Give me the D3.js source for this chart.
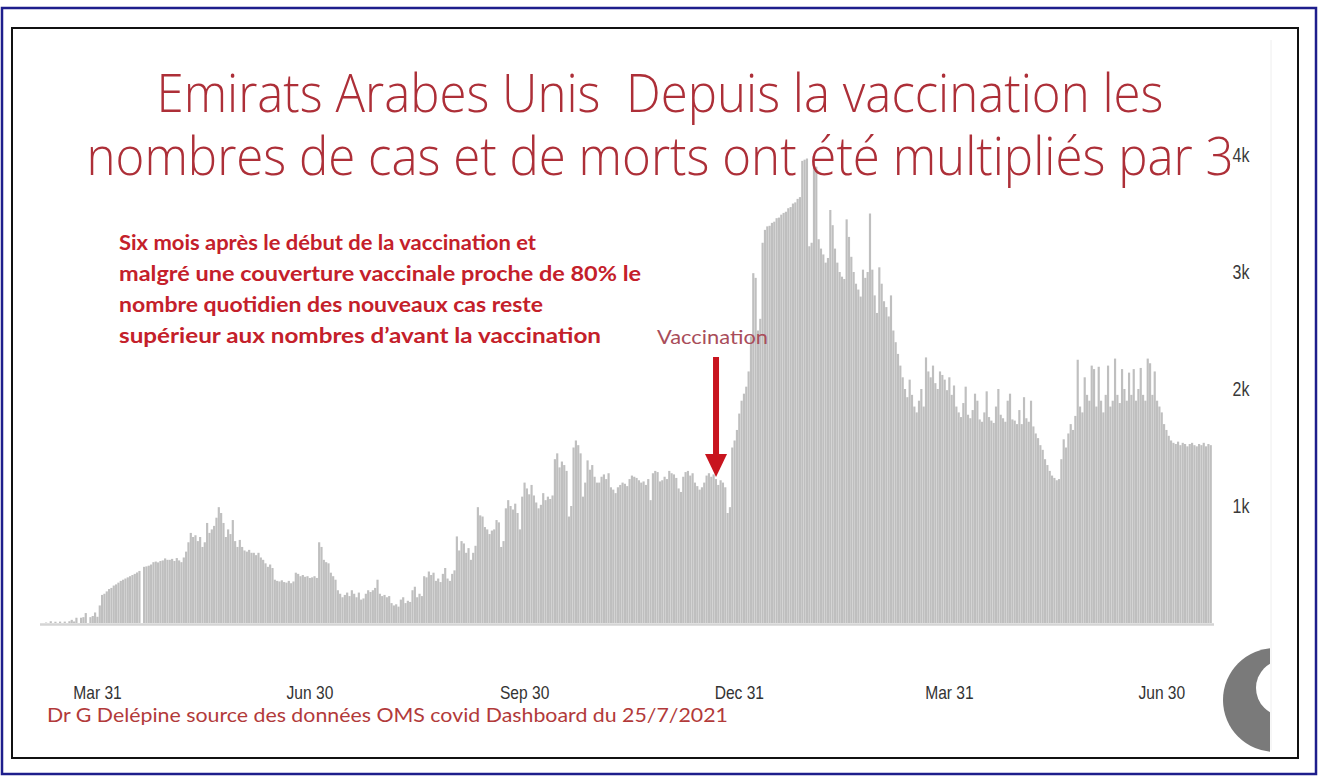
<!DOCTYPE html>
<html><head><meta charset="utf-8">
<script src="https://cdn.jsdelivr.net/npm/d3@7"></script>
<style>html,body{margin:0;padding:0;background:#fff;} svg{display:block}</style>
</head><body>
<svg id="c" width="1319" height="778"></svg>
<script>
// ---------- DATA (daily new cases) ----------
const startDate = "2020-03-09";
const mar2020 = [4,0,15,0,11,0,12,0,12,0,15,27,13,45,0,45,50,85,0,50,60,90,53];
const apr2020 = [150,240,250,270,290,300,320,330,345,360,370,380,390,400,410,420,432,445,0,480,484,490,500,520,525,518,530,535,552,540];
const may2020 = [540,548,530,555,535,520,560,610,690,770,735,750,700,735,650,690,855,770,800,830,900,990,940,855,735,800,760,880,700,650,710];
const jun2020 = [650,620,610,625,600,600,580,600,560,540,510,480,500,470,370,360,355,365,350,345,360,340,355,430,420,400,410,395,400,385];
const jul2020 = [390,400,385,690,650,540,520,510,430,400,370,280,250,220,240,260,230,280,250,220,260,200,210,250,280,265,280,300,370,250,230];
const aug2020 = [240,220,230,170,150,160,140,200,220,170,190,180,280,310,220,250,230,400,390,440,410,430,360,380,350,420,470,380,360,420,450];
const sep2020 = [740,620,700,680,600,640,540,600,660,990,920,910,820,800,760,790,800,880,860,650,700,980,1050,1000,970,1020,940,800,1080,1200];
const oct2020 = [1150,1100,1180,1090,1030,980,1010,1110,1050,1080,1060,1090,1400,1450,1330,1380,1350,1300,910,1000,1500,1560,1520,1450,1080,1200,1390,1310,1350,1250,1200];
const nov2020 = [1200,1250,1270,1230,1280,1160,1140,1110,1160,1180,1200,1190,1170,1230,1260,1250,1240,1220,1200,1210,1180,1230,1050,1280,1300,1290,1210,1220,1250,1230];
const dec2020 = [1300,1280,1270,1240,1150,1120,1250,1290,1300,1260,1280,1200,1170,1140,1160,1200,1260,1280,1250,1270,1230,1180,1220,1200,1160,940,990,1500,1560,1650,1790];
const jan2021 = [1900,1960,2020,2150,2450,2990,2950,2500,2600,3250,3360,3390,3395,3420,3430,3460,3465,3490,3505,3515,3545,3555,3585,3595,3625,3640,3950,3960,3970,3220,3250];
const feb2021 = [3990,3900,3280,3200,3150,3080,3120,3530,3400,3200,3080,3000,2960,2940,3450,3300,3130,3000,2900,2850,2790,3020,2950,3000,3500,3020,2800,2650];
const mar2021 = [3040,2900,2750,2700,2620,2800,2500,2400,2300,2200,2100,2000,1930,2080,1950,1850,1800,1900,2000,1850,2270,2150,2100,2200,2050,2000,2150,2120,2080,1990,2100];
const apr2021 = [1950,2030,1850,1800,1760,1880,2020,1780,1750,1820,1960,1900,1740,1720,1800,1980,1760,1730,1710,1850,2000,1780,1750,1720,1900,1960,1740,1730,1700,1820];
const may2021 = [1700,1930,1750,1720,1900,1680,1620,1580,1520,1480,1400,1350,1300,1260,1240,1220,1230,1400,1570,1500,1620,1700,1650,1770,2250,1850,1800,2100,1950,1900,2200];
const jun2021 = [2170,1850,2190,1900,1800,1950,2200,1850,1900,2260,1950,1880,2170,2000,1900,2140,1950,2170,1900,2000,2180,1950,1900,2260,2220,1950,2150,1900,1850,1800];
const jul2021 = [1700,1650,1600,1560,1540,1530,1550,1520,1540,1530,1510,1530,1540,1520,1510,1530,1520,1540,1510,1530,1520];

const xTickDates  = ["2020-03-31","2020-06-30","2020-09-30","2020-12-31","2021-03-31","2021-06-30"];
const xTickLabels = ["Mar 31","Jun 30","Sep 30","Dec 31","Mar 31","Jun 30"];
const yTickValues = [1000,2000,3000,4000];
const yTickLabels = ["1k","2k","3k","4k"];
const vaccinationDate = "2020-12-21";

const titleLines = ["Emirats Arabes Unis  Depuis la vaccination les",
                    "nombres de cas et de morts ont été multipliés par 3"];
const noteLines = ["Six mois après le début de la vaccination et",
                   "malgré une couverture vaccinale proche de 80% le",
                   "nombre quotidien des nouveaux cas reste",
                   "supérieur aux nombres d’avant la vaccination"];
const vaccinationLabel = "Vaccination";
const sourceText = "Dr G Delépine source des données OMS covid Dashboard du 25/7/2021";

// ---------- LAYOUT ----------
const parse = d3.utcParse("%Y-%m-%d");
const values = [].concat(mar2020,apr2020,may2020,jun2020,jul2020,aug2020,sep2020,oct2020,nov2020,dec2020,
                         jan2021,feb2021,mar2021,apr2021,may2021,jun2021,jul2021);
const t0 = parse(startDate);
const series = values.map((v,i)=>({date:d3.utcDay.offset(t0,i), value:v}));
const tEnd = d3.utcDay.offset(t0, values.length);

const svg = d3.select("#c");
const x = d3.scaleUtc().domain([t0,tEnd]).range([45,1212]);
const y = d3.scaleLinear().domain([0,4000]).range([623,155]);
const step = x(d3.utcDay.offset(t0,1)) - x(t0);

// frames
svg.append("rect").attr("x",2).attr("y",8).attr("width",1314).attr("height",766)
   .attr("fill","#fff").attr("stroke","#1e1e8c").attr("stroke-width",2.5);
svg.append("rect").attr("x",12).attr("y",28).attr("width",1286).attr("height",730)
   .attr("fill","#fff").attr("stroke","#111").attr("stroke-width",2);

// condense helper for the narrow axis font
const axisFont = "'Liberation Sans Narrow','Arial Narrow','Liberation Sans',sans-serif";
function condense(sel, k){
  sel.each(function(){ const w=this.getComputedTextLength(); d3.select(this).attr("textLength",w*k).attr("lengthAdjust","spacingAndGlyphs"); });
}

// y labels (drawn before title so the title overlaps "4k", as in the reference)
svg.append("g").selectAll("text").data(yTickValues).join("text")
   .attr("x",1241).attr("y",d=>y(d)+7).attr("text-anchor","middle")
   .attr("font-family",axisFont).attr("font-size",20).attr("fill","#3a3a3a")
   .text((d,i)=>yTickLabels[i]).call(condense,0.8);

// bars
svg.append("g").selectAll("rect").data(series).join("rect")
   .attr("x",d=>x(d.date)).attr("width",step*0.93)
   .attr("y",d=>y(d.value)).attr("height",d=>y(0)-y(d.value))
   .attr("fill","#bfbfbf");

// baseline
svg.append("line").attr("x1",40).attr("x2",1214).attr("y1",y(0)+1.5).attr("y2",y(0)+1.5)
   .attr("stroke","#d4d4d4").attr("stroke-width",2.5);

// x tick labels
svg.append("g").selectAll("text").data(xTickDates).join("text")
   .attr("x",d=>x(parse(d))+step/2).attr("y",699).attr("text-anchor","middle")
   .attr("font-family",axisFont).attr("font-size",19).attr("fill","#333")
   .text((d,i)=>xTickLabels[i]).call(condense,0.82);

// title
const titleWidths=[1007,1147], titleY=[112,175];
svg.append("g").selectAll("text").data(titleLines).join("text")
   .attr("x",660).attr("y",(d,i)=>titleY[i]).attr("text-anchor","middle")
   .style("white-space","pre")
   .attr("font-family","'Open Sans','Lato',sans-serif").attr("font-weight",300)
   .attr("font-size",54).attr("fill","#ad2f38")
   .attr("textLength",(d,i)=>titleWidths[i]).attr("lengthAdjust","spacingAndGlyphs")
   .text(d=>d);

// note
const noteWidths=[417,522,424,482], noteY=[250,281,312,343];
svg.append("g").selectAll("text").data(noteLines).join("text")
   .attr("x",119).attr("y",(d,i)=>noteY[i])
   .attr("font-family","'Lato','Open Sans',sans-serif").attr("font-weight",700)
   .attr("font-size",21).attr("fill","#c4202a")
   .attr("textLength",(d,i)=>noteWidths[i]).attr("lengthAdjust","spacingAndGlyphs")
   .text(d=>d);

// vaccination marker
const vx = x(parse(vaccinationDate)) + step/2;
svg.append("text").attr("x",657).attr("y",344)
   .attr("font-family","'Lato','Open Sans',sans-serif").attr("font-size",19).attr("fill","#a94d5a")
   .attr("textLength",111).attr("lengthAdjust","spacingAndGlyphs").text(vaccinationLabel);
svg.append("rect").attr("x",vx-3).attr("y",357).attr("width",6).attr("height",100).attr("fill","#c8141e");
svg.append("path").attr("d",`M${vx-11},454 L${vx+11},454 L${vx},477 Z`).attr("fill","#c8141e");

// source
svg.append("text").attr("x",47).attr("y",722)
   .attr("font-family","'Lato','Open Sans',sans-serif").attr("font-size",20).attr("fill","#b23a3a")
   .attr("textLength",681).attr("lengthAdjust","spacingAndGlyphs").text(sourceText);

// grey round widget at the bottom right (clipped)
svg.append("clipPath").attr("id","cp").append("rect").attr("x",1200).attr("y",640).attr("width",70).attr("height",120);
const gw = svg.append("g").attr("clip-path","url(#cp)");
gw.append("circle").attr("cx",1275).attr("cy",700).attr("r",52).attr("fill","#7a7a7a");
gw.append("circle").attr("cx",1284).attr("cy",688).attr("r",28).attr("fill","#fff");
svg.append("line").attr("x1",1271).attr("x2",1271).attr("y1",40).attr("y2",750).attr("stroke","#eeeeee").attr("stroke-width",1);
</script>
</body></html>
